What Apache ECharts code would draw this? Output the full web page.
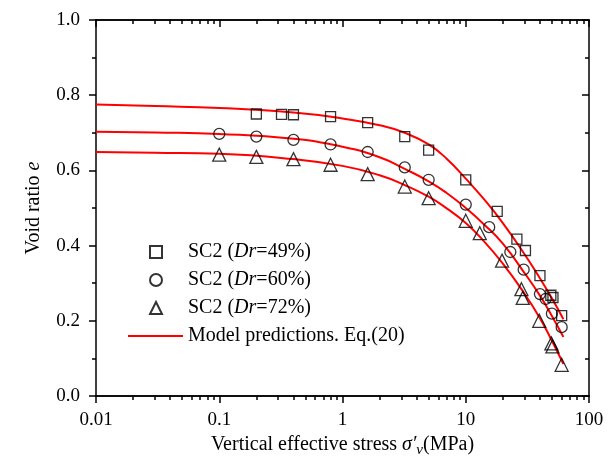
<!DOCTYPE html>
<html>
<head>
<meta charset="utf-8">
<script src="https://cdn.jsdelivr.net/npm/echarts@6/dist/echarts.min.js"></script>
<style>
  html, body { margin: 0; padding: 0; background: #fff; }
  #chart { width: 614px; height: 463px; }
</style>
</head>
<body>
<div id="chart"></div>
<script>
// 试验数据 [应力 MPa, 孔隙比 e]
const sc49 = [[0.2,0.75],[0.32,0.749],[0.4,0.748],[0.8,0.743],[1.6,0.727],[3.2,0.69],[5,0.654],[10,0.575],[18,0.491],[26,0.417],[30.5,0.387],[40,0.32],[49,0.268],[51,0.262],[60,0.214]]
const sc60 = [[0.1,0.697],[0.2,0.69],[0.4,0.681],[0.8,0.669],[1.6,0.649],[3.2,0.608],[5,0.575],[10,0.509],[15.5,0.449],[23,0.383],[29.5,0.336],[40,0.271],[44.5,0.258],[50,0.219],[60,0.183]]
const sc72 = [[0.1,0.642],[0.2,0.636],[0.4,0.63],[0.8,0.615],[1.6,0.59],[3.2,0.557],[5,0.526],[10,0.466],[13,0.433],[19.7,0.36],[28.3,0.284],[29,0.261],[39.5,0.2],[49.5,0.14],[50.5,0.132],[60,0.083]]

// 模型曲线
const model49 = [[0.01,0.775],[0.03,0.771],[0.1,0.766],[0.4,0.754],[1,0.738],[2,0.72],[3.2,0.7],[5,0.669],[7,0.631],[10,0.578],[14,0.524],[20,0.46],[30,0.377],[40,0.313],[50,0.26],[62,0.204]]
const model60 = [[0.01,0.703],[0.03,0.701],[0.1,0.697],[0.4,0.684],[1,0.663],[2,0.635],[3.2,0.604],[5,0.571],[7,0.54],[10,0.5],[14,0.457],[20,0.405],[30,0.327],[40,0.267],[50,0.213],[62,0.157]]
const model72 = [[0.01,0.649],[0.03,0.647],[0.1,0.644],[0.4,0.63],[1,0.612],[2,0.587],[3.2,0.561],[5,0.53],[7,0.499],[10,0.46],[14,0.412],[20,0.352],[30,0.272],[40,0.207],[50,0.147],[62,0.085]]

const xMajor = [0.01, 0.1, 1, 10, 100]
const xMinorSteps = [2, 3, 4, 5, 6, 7, 8, 9]
const xMinor = []
xMajor.slice(0, -1).forEach(d => xMinorSteps.forEach(m => xMinor.push(+(d * m).toPrecision(3))))

const legendNames = ['SC2 (Dr=49%)', 'SC2 (Dr=60%)', 'SC2 (Dr=72%)', 'Model predictions. Eq.(20)']
const lineName = legendNames[3]

const FONT = 'Liberation Serif'
const axisLine = { show: true, lineStyle: { color: '#000', width: 1.5 } }

function xAxisOf (position, ticks, len, inside, label) {
  return {
    type: 'log', logBase: 10, min: 0.01, max: 100, position,
    axisLine,
    axisTick: { show: true, customValues: ticks, length: len, inside, lineStyle: { color: '#000', width: 1.5 } },
    axisLabel: label
      ? { show: true, customValues: xMajor, margin: 15, color: '#000', fontFamily: FONT, fontSize: 19,
          formatter: v => String(+Number(v).toPrecision(3)) }
      : { show: false },
    splitLine: { show: false }
  }
}

function yAxisOf (position, inside, label) {
  return {
    type: 'value', min: 0, max: 1, interval: 0.2, position,
    axisLine,
    axisTick: { show: true, length: 7, inside, lineStyle: { color: '#000', width: 1.5 } },
    minorTick: { show: true, splitNumber: 2, length: 4, lineStyle: { color: '#000', width: 1.5 } },
    axisLabel: label
      ? { show: true, margin: 16, color: '#000', fontFamily: FONT, fontSize: 19, formatter: v => v.toFixed(1) }
      : { show: false },
    splitLine: { show: false }
  }
}

const xMain = xAxisOf('bottom', xMajor, 7, false, true)
xMain.name = '{a|Vertical effective stress }{s|σ′}{v|ν}{a|(MPa)}'
xMain.nameLocation = 'middle'
xMain.nameGap = 36
xMain.nameTextStyle = {
  color: '#000', fontFamily: FONT, fontSize: 20,
  rich: {
    a: { fontFamily: FONT, fontSize: 20, color: '#000' },
    s: { fontFamily: FONT, fontSize: 20, fontStyle: 'italic', color: '#000' },
    v: { fontFamily: FONT, fontSize: 15, fontStyle: 'italic', color: '#000', padding: [10, 0, 0, 0] }
  }
}

const yMain = yAxisOf('left', false, true)
yMain.name = '{a|Void ratio }{i|e}'
yMain.nameLocation = 'middle'
yMain.nameGap = 52
yMain.nameTextStyle = {
  color: '#000', fontFamily: FONT, fontSize: 20,
  rich: {
    a: { fontFamily: FONT, fontSize: 20, color: '#000' },
    i: { fontFamily: FONT, fontSize: 20, fontStyle: 'italic', color: '#000' }
  }
}

const legendText = {
  color: '#000', fontFamily: FONT, fontSize: 20, lineHeight: 20,
  rich: { i: { fontFamily: FONT, fontSize: 20, fontStyle: 'italic', color: '#000' } }
}

const scatterStyle = { color: 'rgba(0,0,0,0)', borderColor: '#000', borderWidth: 1.3 }
const lineStyle = { color: '#ff0000', width: 2 }
// 图例里不显示曲线的圆点
const lineItemStyle = { color: '#ff0000', opacity: 0 }

const chart = echarts.init(document.getElementById('chart'))
chart.setOption({
  backgroundColor: '#fff',
  animation: false,
  grid: { left: 96, right: 25, top: 20, bottom: 67 },
  legend: [
    {
      // 散点图例
      orient: 'vertical', left: 144, top: 237,
      itemWidth: 12, itemHeight: 12, itemGap: 8,
      data: legendNames.slice(0, 3),
      textStyle: Object.assign({ padding: [0, 0, 0, 21] }, legendText),
      formatter: name => name.replace('Dr', '{i|Dr}')
    },
    {
      // 曲线图例
      orient: 'vertical', left: 122, top: 321,
      itemWidth: 55, itemHeight: 12,
      data: [lineName],
      textStyle: legendText
    }
  ],
  xAxis: [
    xMain,
    xAxisOf('bottom', xMinor, 4, false, false),
    xAxisOf('top', xMajor, 7, true, false),
    xAxisOf('top', xMinor, 4, true, false)
  ],
  yAxis: [
    yMain,
    yAxisOf('right', true, false)
  ],
  series: [
    { name: legendNames[0], type: 'scatter', data: sc49, symbol: 'rect', symbolSize: 10, itemStyle: scatterStyle, z: 3 },
    { name: legendNames[1], type: 'scatter', data: sc60, symbol: 'circle', symbolSize: 11, itemStyle: scatterStyle, z: 3 },
    { name: legendNames[2], type: 'scatter', data: sc72, symbol: 'triangle', symbolSize: 13, itemStyle: scatterStyle, z: 3 },
    { name: lineName, type: 'line', data: model49, smooth: true, symbol: 'none', lineStyle, itemStyle: lineItemStyle },
    { name: lineName, type: 'line', data: model60, smooth: true, symbol: 'none', lineStyle, itemStyle: lineItemStyle },
    { name: lineName, type: 'line', data: model72, smooth: true, symbol: 'none', lineStyle, itemStyle: lineItemStyle }
  ]
})
</script>
</body>
</html>
